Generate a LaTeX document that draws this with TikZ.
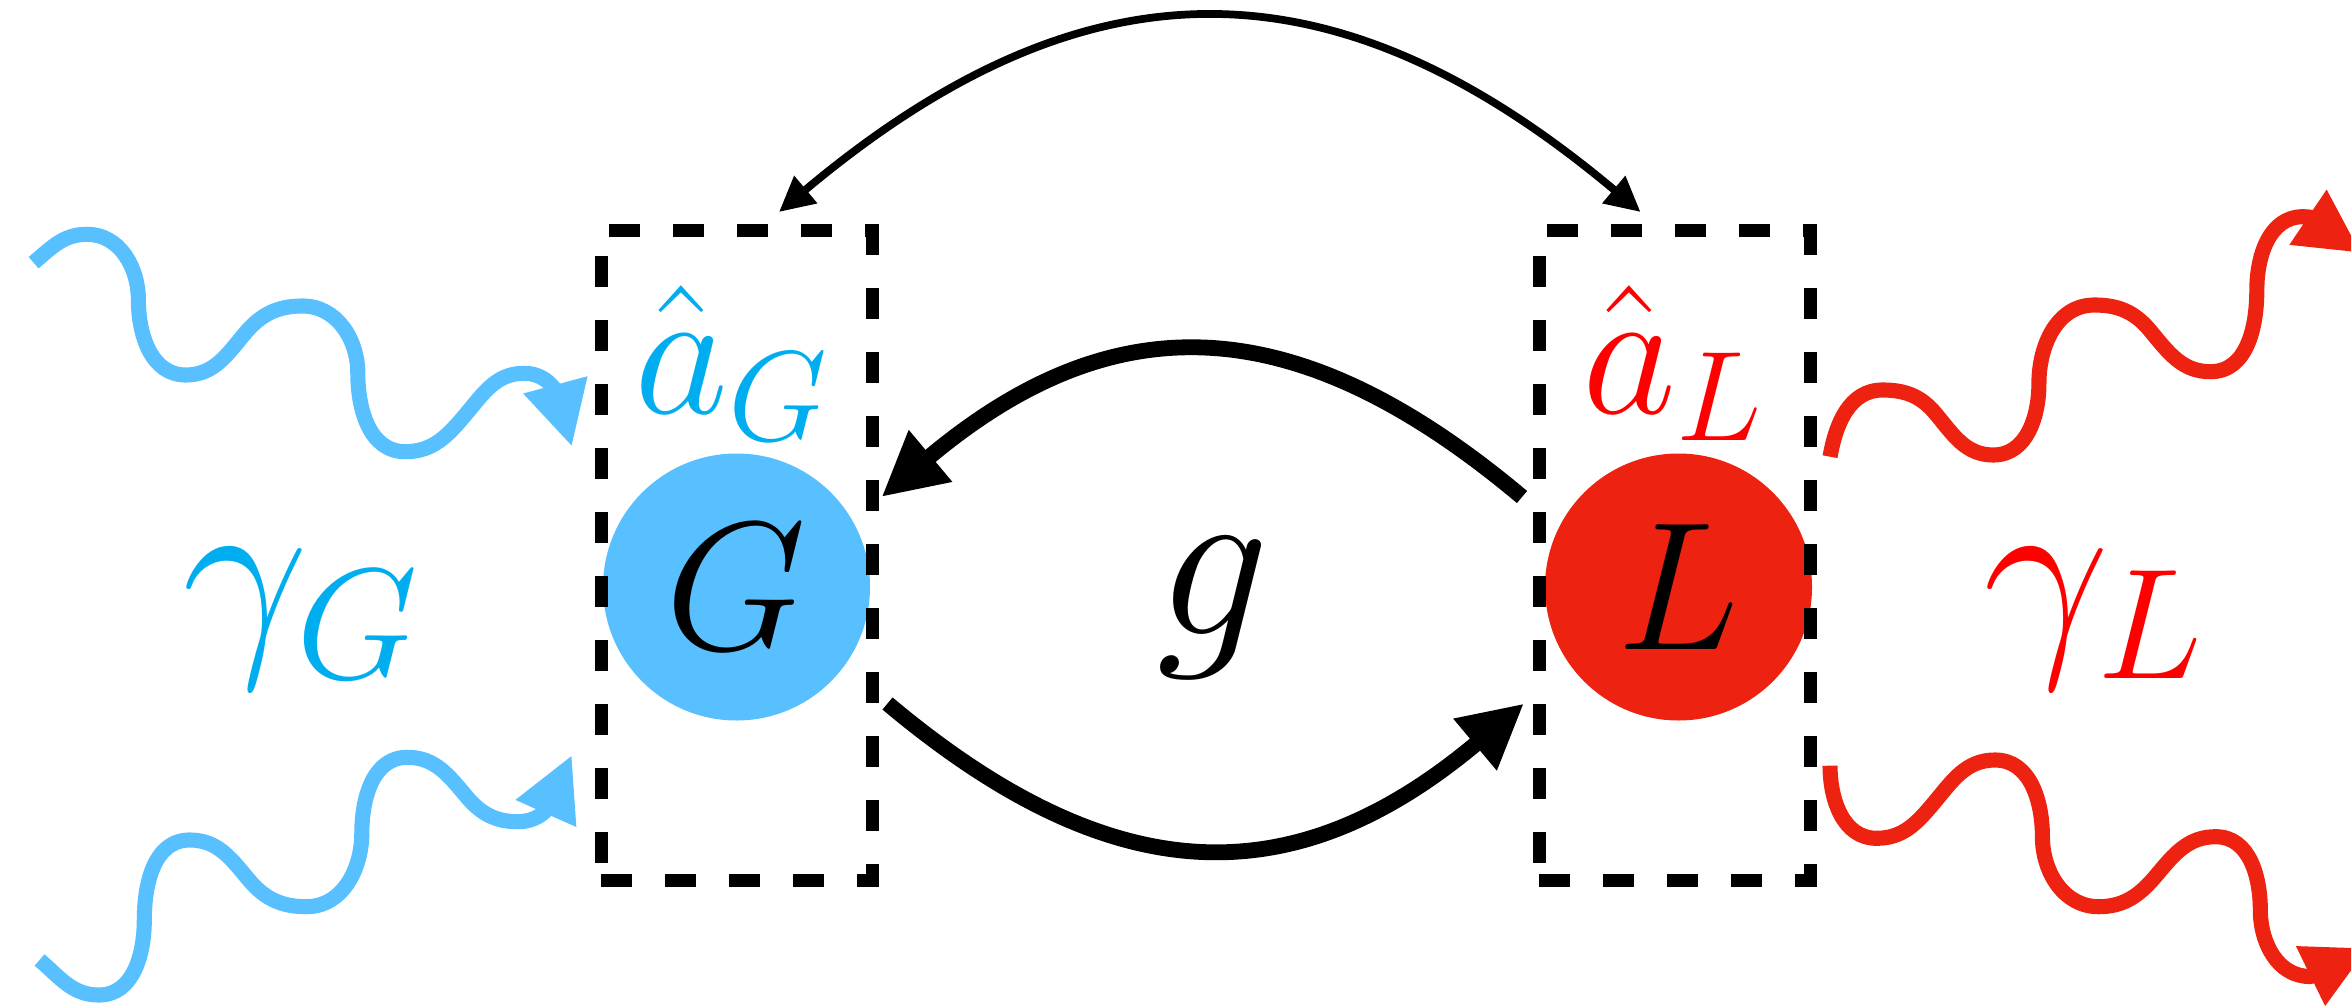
\RequirePackage{fix-cm}
\documentclass[tikz,border=0pt]{standalone}
\usepackage{xcolor}
\usetikzlibrary{arrows.meta, positioning}

\definecolor{gblue}{HTML}{58C0FF}
\definecolor{gcyan}{HTML}{00AEEF}
\definecolor{lred}{HTML}{EE2211}
\definecolor{lredtxt}{HTML}{FF0000}

\begin{document}
\begin{tikzpicture}[
        mode/.style={circle, minimum size=2.67cm, inner sep=0pt, outer sep=0pt},
        dashbox/.style={draw=black, line width=3.7pt, dash pattern=on 0.31cm off 0.33cm,
            minimum width=2.71cm, minimum height=6.49cm, inner sep=0pt, outer sep=0pt},
        lettr/.style={font=\fontsize{52}{60}\selectfont},
        bigsym/.style={font=\fontsize{64}{74}\selectfont},
        hop/.style={line width=4.5pt, -{Triangle[length=0.64cm, width=0.63cm]}},
        swapline/.style={line width=2.2pt,
            {Triangle[length=0.35cm, width=0.34cm]}-{Triangle[length=0.35cm, width=0.34cm]}},
        wave/.style={line width=4.3pt, -{Triangle[length=0.64cm, width=0.62cm]}}
    ]
    \useasboundingbox (0,0) rectangle (23.51,10.07);

    % modes and their boxes
    \node [mode, fill=gblue, lettr] (G) at (7.365,4.2) {$G$};
    \node [mode, fill=lred, lettr, right=6.75cm of G] (L) {$L$};
    \node [dashbox] (boxG) at ([yshift=0.315cm]G.center) {};
    \node [dashbox] (boxL) at ([xshift=-0.04cm, yshift=0.315cm]L.center) {};

    % labels
    \node [lettr, text=gcyan, anchor=base] (aG) at ([xshift=-0.05cm, yshift=0.405cm]G.north) {$\hat{a}_G$};
    \node [lettr, text=lredtxt, anchor=base] (aL) at ([xshift=-0.06cm, yshift=0.405cm]L.north) {$\hat{a}_L$};
    \node [bigsym, text=gcyan, anchor=base] (gamG) at (3.015,3.62) {$\gamma_G$};
    \node [bigsym, text=lredtxt, anchor=base] (gamL) at (20.94,3.62) {$\gamma_L$};
    \node [bigsym, anchor=base] (g) at (12.135,3.73) {$g$};

    % coupling
    \draw [hop] ([xshift=-0.17cm, yshift=0.585cm]boxL.west) to[out=140, in=40, looseness=1.2] ([xshift=0.095cm, yshift=0.585cm]boxG.east);
    \draw [hop] ([xshift=0.155cm, yshift=-1.48cm]boxG.east) to[out=-40, in=-140, looseness=1.2] ([xshift=-0.15cm, yshift=-1.48cm]boxL.west);
    \draw [swapline] ([xshift=0.425cm, yshift=0.19cm]boxG.north) to[out=40, in=140, looseness=1.19] ([xshift=-0.34cm, yshift=0.19cm]boxL.north);

    % baths
    \coordinate (inGa) at (0.336,7.443);
    \coordinate (inGb) at (0.395,0.47);
    \coordinate (outLa) at (23.61,7.54);
    \coordinate (outLb) at (23.68,0.59);
    \draw [wave, gblue] (inGa) to[out=40, in=180] (0.87,7.727) to[out=0, in=90] (1.384,7.07)
        to[out=-90, in=180] (1.858,6.32) to[out=0, in=230] (2.45,6.737) to[out=50, in=180] (3.025,7.01)
        to[out=0, in=90] (3.578,6.337) to[out=-90, in=180] (4.053,5.553) to[out=0, in=230] (4.666,5.937)
        to[out=50, in=180] (5.24,6.337) to[out=0, in=105] ([xshift=-0.291cm, yshift=1.088cm]boxG.west);
    \draw [wave, gblue] (inGb) to[out=-40, in=180] (0.989,0.12) to[out=0, in=-90] (1.443,0.87)
        to[out=90, in=180] (1.898,1.67) to[out=0, in=130] (2.49,1.27) to[out=-50, in=180] (3.064,1.003)
        to[out=0, in=-90] (3.618,1.737) to[out=90, in=180] (4.073,2.497) to[out=0, in=130] (4.666,2.103)
        to[out=-50, in=180] (5.18,1.853) to[out=0, in=246] ([xshift=-0.291cm, yshift=-1.995cm]boxG.west);
    \draw [wave, lred] ([xshift=0.2cm, yshift=0.988cm]boxL.east) to[out=80, in=180] (18.826,6.17)
        to[out=0, in=130] (19.353,5.937) to[out=-50, in=180] (19.933,5.52) to[out=0, in=-90] (20.389,6.237)
        to[out=90, in=180] (20.944,7.02) to[out=0, in=130] (21.496,6.77) to[out=-50, in=180] (22.104,6.353)
        to[out=0, in=-90] (22.568,7.17) to[out=90, in=180] (23.03,7.903) to[out=0, in=146] (outLa);
    \draw [wave, lred] ([xshift=0.2cm, yshift=-2.102cm]boxL.east) to[out=-90, in=180] (18.766,1.687)
        to[out=0, in=230] (19.335,2.037) to[out=50, in=180] (19.95,2.47) to[out=0, in=90] (20.424,1.703)
        to[out=-90, in=180] (20.987,1.003) to[out=0, in=230] (21.566,1.32) to[out=50, in=180] (22.157,1.703)
        to[out=0, in=90] (22.603,0.97) to[out=-90, in=180] (23.10,0.305) to[out=10, in=206] (outLb);
\end{tikzpicture}
\end{document}
